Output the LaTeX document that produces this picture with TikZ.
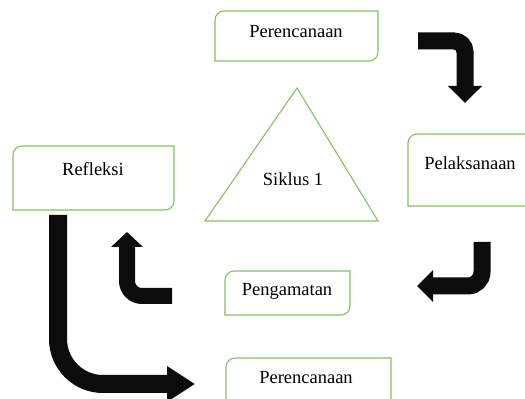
\documentclass[tikz,border=0pt]{standalone}
\usepackage{fontspec}
\setmainfont{Liberation Serif}
\usetikzlibrary{arrows.meta,calc}
\definecolor{boxgreen}{RGB}{135,192,100}
\definecolor{arrowblack}{RGB}{12,12,12}
\tikzset{
  boxline/.style={draw=boxgreen, line width=1.1pt},
  lbl/.style={font=\fontsize{18.5}{20}\selectfont, inner sep=0pt},
  bigarrow/.style={draw=arrowblack, line width=17pt,
     -{Triangle[width=33pt,length=17pt]}},
}
% diagonal-rounded box: round top-left and bottom-right
\newcommand\diagbox[5]{% name, left, right, top, bottom
  \coordinate (#1-nw) at (#2,#4);
  \coordinate (#1-se) at (#3,#5);
  \draw[boxline] (#2,#5) -- (#2,#4-9) arc[start angle=180,end angle=90,radius=9pt]
     -- (#3,#4) -- (#3,#5+9) arc[start angle=0,end angle=-90,radius=9pt] -- cycle;
}
\begin{document}
\begin{tikzpicture}[x=1pt,y=1pt]
\useasboundingbox (0,0) rectangle (525,399);
\fill[white] (0,0) rectangle (525,399);
\clip (0,0) rectangle (525,399);

% boxes
\diagbox{p1}{215}{378}{388}{338}
\diagbox{ref}{13}{174}{253}{189}
\diagbox{pel}{408}{540}{265}{193}
\diagbox{pen}{225}{350}{128}{84}
\diagbox{p2}{226}{391}{41}{-15}

\node[lbl] (tP1) at (296,367) {Perencanaan};
\node[lbl] (tRef) at (93,230) {Refleksi};
\node[lbl] (tPel) at (470,236) {Pelaksanaan};
\node[lbl] (tPen) at (287,108) {Pengamatan};
\node[lbl] (tP2) at (306,21) {Perencanaan};

% triangle
\coordinate (tA) at (297,311);
\coordinate (tB) at (205,178);
\coordinate (tC) at (378,178);
\draw[boxline] (tA) -- (tB) -- (tC) -- cycle;
\node[lbl] (sik) at (293,220) {Siklus 1};

% arrows
\coordinate (a1s) at (418,358);
\coordinate (a1c) at (465,358);
\coordinate (a1e) at (465,296);
\draw[bigarrow, rounded corners=11pt] (a1s) -- (a1c) -- (a1e);

\coordinate (a2s) at (482,157);
\coordinate (a2c) at (482,113);
\coordinate (a2e) at (417,113);
\draw[bigarrow, -{Triangle[width=31pt,length=16pt]}, rounded corners=14pt] (a2s) -- (a2c) -- (a2e);

\coordinate (a3s) at (172,103);
\coordinate (a3c) at (127,103);
\coordinate (a3e) at (127,167);
\draw[bigarrow, line width=16pt, -{Triangle[width=31pt,length=15pt]}, rounded corners=15pt] (a3s) -- (a3c) -- (a3e);

\coordinate (a4s) at (58,184);
\coordinate (a4c) at (58,15);
\coordinate (a4e) at (195,15);
\draw[bigarrow, line width=18pt, -{Triangle[width=34pt,length=28pt]}, rounded corners=45pt] (a4s) -- (a4c) -- (a4e);
\end{tikzpicture}
\end{document}
